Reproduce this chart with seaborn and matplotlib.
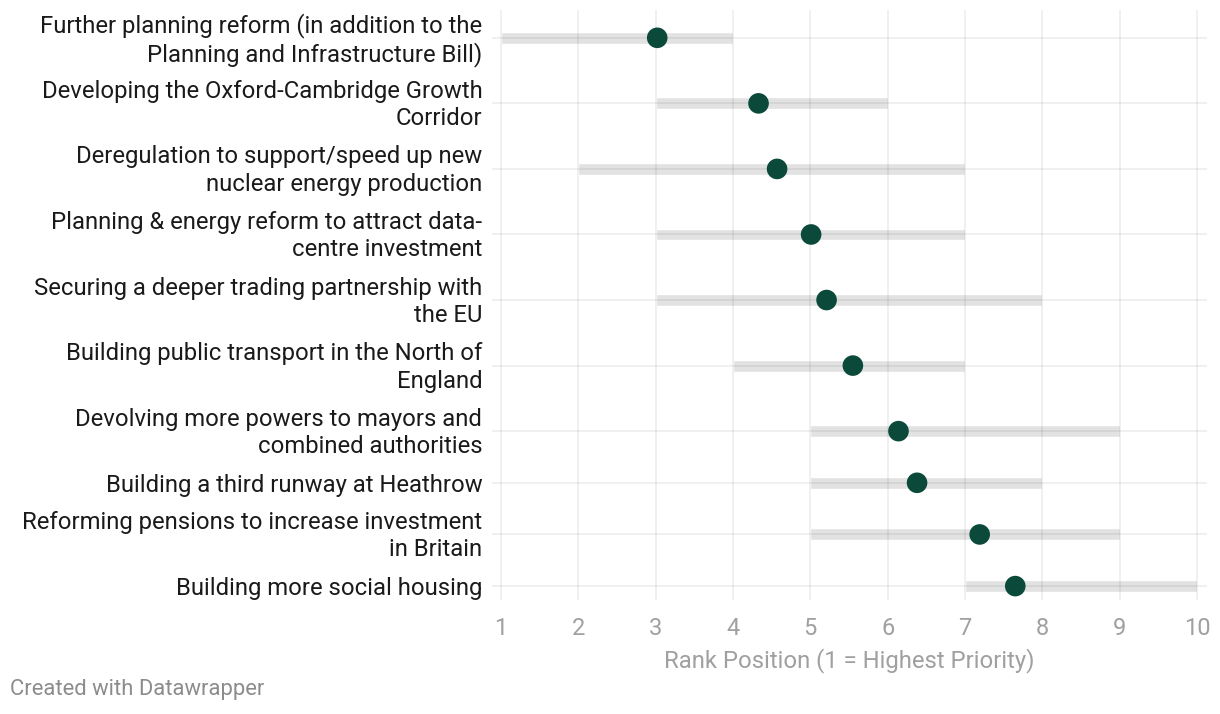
import pandas as pd
import seaborn as sns
import matplotlib.pyplot as plt
import matplotlib.transforms as mtransforms

## data ----------------------------------------------------------------------------

labels = ['Further planning reform (in addition to the\nPlanning and Infrastructure Bill)',
          'Developing the Oxford-Cambridge Growth\nCorridor',
          'Deregulation to support/speed up new\nnuclear energy production',
          'Planning & energy reform to attract data-\ncentre investment',
          'Securing a deeper trading partnership with\nthe EU',
          'Building public transport in the North of\nEngland',
          'Devolving more powers to mayors and\ncombined authorities',
          'Building a third runway at Heathrow',
          'Reforming pensions to increase investment\nin Britain',
          'Building more social housing']
avg_rank = [3.02, 4.33, 4.57, 5.01, 5.21, 5.55, 6.14, 6.38, 7.19, 7.65]
low_rank = [1, 3, 2, 3, 3, 4, 5, 5, 5, 7]
high_rank = [4, 6, 7, 7, 8, 7, 9, 8, 9, 10]
x_ticks = [1, 2, 3, 4, 5, 6, 7, 8, 9, 10]

df = pd.DataFrame({'label': labels, 'avg': avg_rank, 'low': low_rank, 'high': high_rank})

## row positions (two-line labels get taller rows, like datawrapper) ---------------

df['lines'] = df.label.map(lambda s: s.count('\n') + 1)
df['h'] = 10 + 28 * df['lines']
df['y'] = df['h'].cumsum() - df['h'] / 2
top = df['y'].iloc[0] - 28
bottom = df['y'].iloc[-1] + 14

## plot ----------------------------------------------------------------------------

sns.set_theme(style='white')
plt.rcParams['font.family'] = ['Roboto', 'DejaVu Sans']

f = plt.figure(figsize=(12.2, 7.14), dpi=100)
ax = f.add_axes([492 / 1220, 1 - 600 / 714, (1207 - 492) / 1220, 590 / 714])

ax.barh(df['y'], df['high'] - df['low'], left=df['low'], height=12,
        color='#e2e2e2', zorder=1)
sns.scatterplot(data=df, x='avg', y='y', s=220, color='#0b4a3a', edgecolor='none',
                zorder=3, ax=ax)

ax.set_xlim(1 - 9 / 77.3, 10 + 10 / 77.3)
ax.set_ylim(bottom, top)
ax.set_axisbelow(False)
ax.grid(True, color='black', alpha=0.075, linewidth=1.1, zorder=2)

ax.set_xticks(x_ticks)
ax.set_xticklabels([str(t) for t in x_ticks], fontsize=17, color='#a0a0a0')
ax.set_yticks(df['y'])
ax.set_yticklabels(df['label'], fontsize=17.2, color='#1a1a1a', ha='right',
                   linespacing=1.25)
ax.tick_params(axis='y', length=0, pad=7)
ax.tick_params(axis='x', length=0, pad=12)

# nudge the two-line labels up a touch so they sit centred on their row
shift = mtransforms.ScaledTranslation(0, 3 / 100, f.dpi_scale_trans)
for lab, n in zip(ax.get_yticklabels(), df['lines']):
    if n > 1:
        lab.set_transform(lab.get_transform() + shift)

for s in ax.spines.values():
    s.set_visible(False)

ax.set_ylabel('')
ax.set_xlabel('Rank Position (1 = Highest Priority)', fontsize=17.2, color='#a0a0a0',
              labelpad=6)

f.text(10 / 1220, 1 - 689 / 714, 'Created with Datawrapper', fontsize=15.8,
       color='#8c8c8c', va='center')

f.savefig('out.png', dpi=100)
